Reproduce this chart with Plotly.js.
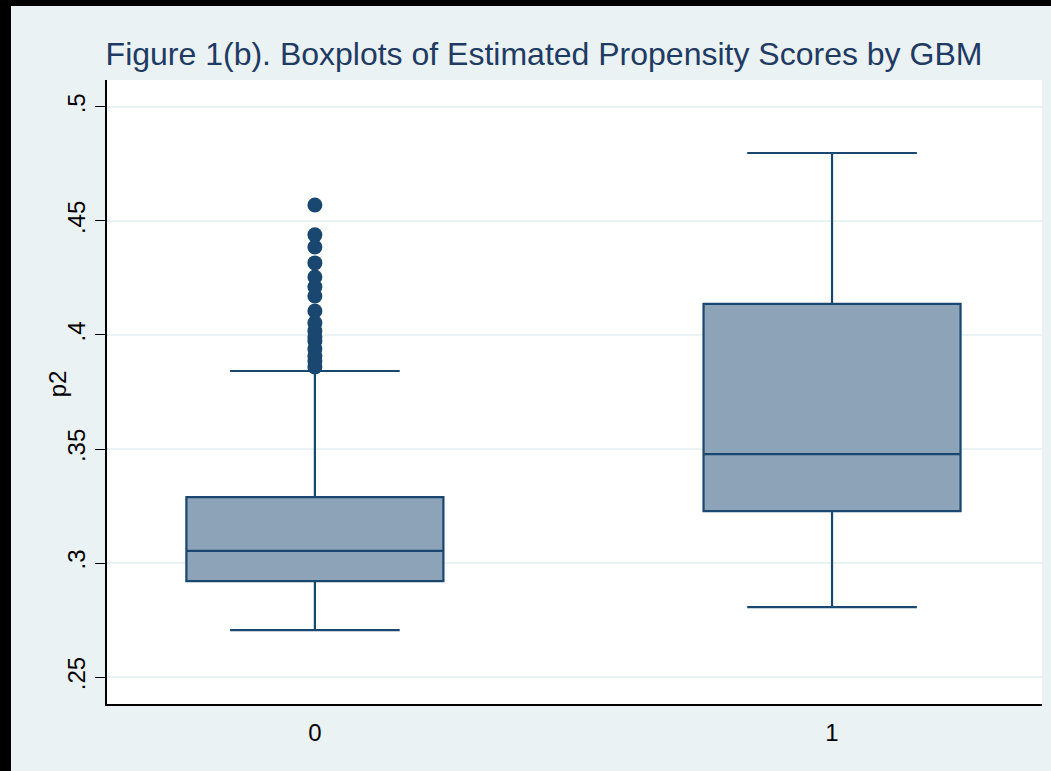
<!DOCTYPE html>
<html>
<head>
<meta charset="utf-8">
<script src="https://cdn.plot.ly/plotly-3.0.1.min.js"></script>
<style>
  html, body { margin: 0; padding: 0; background: #000; width: 1051px; height: 771px; overflow: hidden; }
  #chart { position: absolute; left: 11px; top: 6px; width: 1040px; height: 765px; }
</style>
</head>
<body>
<div id="chart"></div>
<script>
// Groups
const groups = ['0', '1'];
// Precomputed box statistics
const lowerWhisker = [0.2706, 0.2807];
const q1Values = [0.2921, 0.3228];
const medianValues = [0.3053, 0.3478];
const q3Values = [0.3289, 0.4136];
const upperWhisker = [0.3842, 0.4798];
// Outside values for group 0
const outlierGroup = '0';
const outlierValues = [0.4570, 0.4439, 0.4386, 0.4316, 0.4254, 0.4211, 0.4171, 0.4105,
  0.4053, 0.4018, 0.3991, 0.3974, 0.3939, 0.3908, 0.3886, 0.3860];
// Axis ticks
const yTickVals = [0.25, 0.3, 0.35, 0.4, 0.45, 0.5];
const yTickText = ['.25', '.3', '.35', '.4', '.45', '.5'];
const yTitle = 'p2';

const navy = '#1a476f';
const fill = '#8da3b8';

const traces = [
  {
    type: 'box',
    x: groups,
    q1: q1Values,
    median: medianValues,
    q3: q3Values,
    lowerfence: lowerWhisker,
    upperfence: upperWhisker,
    boxpoints: false,
    width: 0.497,
    whiskerwidth: 0.66,
    fillcolor: fill,
    line: { color: navy, width: 2.2 },
    hoverinfo: 'skip',
    showlegend: false
  },
  {
    type: 'scatter',
    mode: 'markers',
    x: outlierValues.map(() => outlierGroup),
    y: outlierValues,
    marker: { color: navy, size: 15, line: { width: 0 } },
    showlegend: false
  }
];

const layout = {
  width: 1040,
  height: 765,
  paper_bgcolor: '#eaf2f3',
  plot_bgcolor: '#ffffff',
  margin: { l: 96, r: 9, t: 74, b: 67 },
  font: { family: 'Liberation Sans, Arial, sans-serif', color: '#000' },
  title: {
    text: 'Figure 1(b). Boxplots of Estimated Propensity Scores by GBM',
    font: { size: 32, color: '#1f3b63', family: 'Liberation Sans, Arial, sans-serif' },
    x: 0.5125,
    xanchor: 'center',
    xref: 'container',
    y: 1 - 48 / 765,
    yanchor: 'middle',
    yref: 'container'
  },
  xaxis: {
    type: 'category',
    range: [-0.402, 1.406],
    showgrid: false,
    zeroline: false,
    showline: true,
    linecolor: '#000',
    linewidth: 2,
    ticks: '',
    tickfont: { size: 24, color: '#000' },
    ticklabelstandoff: 6,
    fixedrange: true
  },
  yaxis: {
    range: [0.2382, 0.5118],
    tickvals: yTickVals,
    ticktext: yTickText,
    tickangle: -90,
    ticks: 'outside',
    ticklen: 10,
    tickwidth: 1,
    tickcolor: '#000',
    tickfont: { size: 24, color: '#000' },
    ticklabelstandoff: 0,
    showgrid: true,
    gridcolor: '#eaf2f3',
    gridwidth: 2,
    zeroline: false,
    showline: true,
    linecolor: '#000',
    linewidth: 2,
    fixedrange: true
  },
  annotations: [
    {
      text: yTitle,
      xref: 'paper', yref: 'paper',
      x: -0.053, y: 0.513,
      xanchor: 'center', yanchor: 'middle',
      textangle: -90,
      showarrow: false,
      font: { size: 24, color: '#000' }
    }
  ],
  showlegend: false
};

Plotly.newPlot('chart', traces, layout, { displayModeBar: false, staticPlot: true });
</script>
</body>
</html>
